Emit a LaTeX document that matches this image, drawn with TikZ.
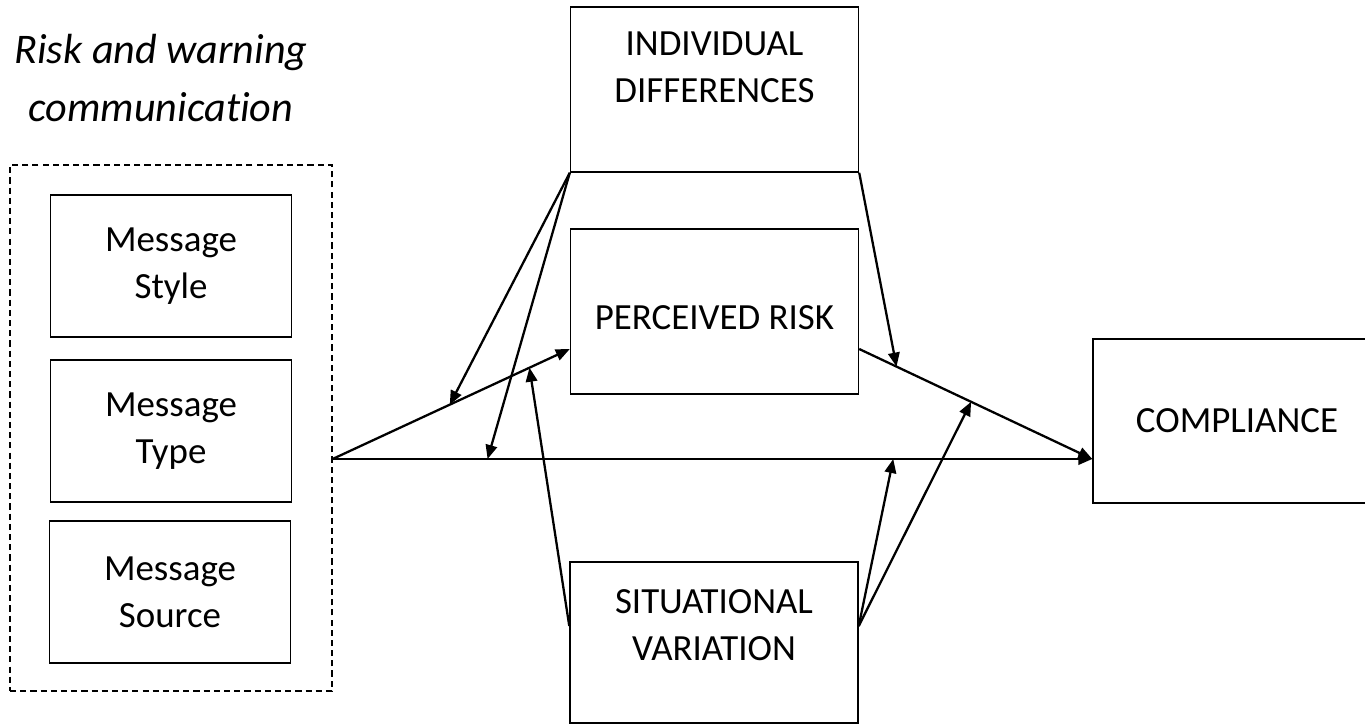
\documentclass[tikz,border=0pt]{standalone}
\usepackage{fontspec}
\setmainfont{Carlito}[Ligatures=NoCommon]
\usetikzlibrary{arrows.meta,calc}
\begin{document}
\begin{tikzpicture}[x=0.02cm,y=-0.02cm,
  factor/.style={draw,rectangle,line width=0.85pt,minimum width=5.76cm,minimum height=3.3cm,inner sep=0pt,align=center,font=\fontsize{21}{26.5}\selectfont},
  message/.style={draw,rectangle,line width=0.85pt,minimum width=4.82cm,minimum height=2.84cm,inner sep=0pt,align=center,font=\fontsize{21}{27}\selectfont},
  boxtext/.style={align=center,inner sep=0pt,font=\fontsize{21}{26.5}\selectfont},
  toeffect/.style={line width=1.3pt,-{Triangle[length=0.28cm,width=0.23cm]}}]
\useasboundingbox (0,0) rectangle (1365,725);
\node[align=center,inner sep=0pt,font=\fontsize{24}{33}\selectfont\itshape] (title) at (161,78) {Risk and warning\\communication};
\node[draw,dash pattern=on 3.5pt off 2.3pt,line width=0.7pt,minimum width=6.44cm,minimum height=10.52cm,inner sep=0pt] (group) at (171,428) {};
\node[message] (style) at (171,266) {Message\\Style};
\node[message] (type) at (171,431) {Message\\Type};
\node[message] (source) at (170,592) {Message\\Source};
\node[factor,label={[boxtext,yshift=0.44cm]center:INDIVIDUAL\\DIFFERENCES}] (indiv) at (714.5,89.5) {};
\node[factor,text height=0.73cm] (risk) at (714.5,311.5) {PERCEIVED RISK};
\node[factor,minimum height=3.22cm,label={[boxtext,yshift=0.35cm]center:SITUATIONAL\\VARIATION}] (situ) at (714,642.5) {};
\node[factor,minimum height=3.28cm] (comp) at (1237,421) {COMPLIANCE};
% attach points on the boxes
\coordinate (src) at ([yshift=-0.62cm]group.east);
\coordinate (compin) at (comp.west |- src);
\coordinate (riskin) at ([yshift=-0.75cm]risk.west);
\coordinate (riskout) at ([yshift=-0.75cm]risk.east);
\coordinate (situl) at ([yshift=0.33cm]situ.west);
\coordinate (situr) at ([yshift=0.33cm]situ.east);
% main paths
\draw[toeffect] (src) -- (compin);
\draw[toeffect] (src) -- (riskin);
\draw[toeffect] (riskout) -- (compin);
% moderators
\draw[toeffect] (indiv.south west) -- ($(src)!0.494!(riskin)$);
\draw[toeffect] (indiv.south west) -- ($(src)!0.204!(compin)$);
\draw[toeffect] (indiv.south east) -- ($(riskout)!0.16!(compin)$);
\draw[toeffect] (situl) -- ($(src)!0.83!(riskin)$);
\draw[toeffect] (situr) -- ($(src)!0.738!(compin)$);
\draw[toeffect] (situr) -- ($(riskout)!0.48!(compin)$);
\end{tikzpicture}
\end{document}
